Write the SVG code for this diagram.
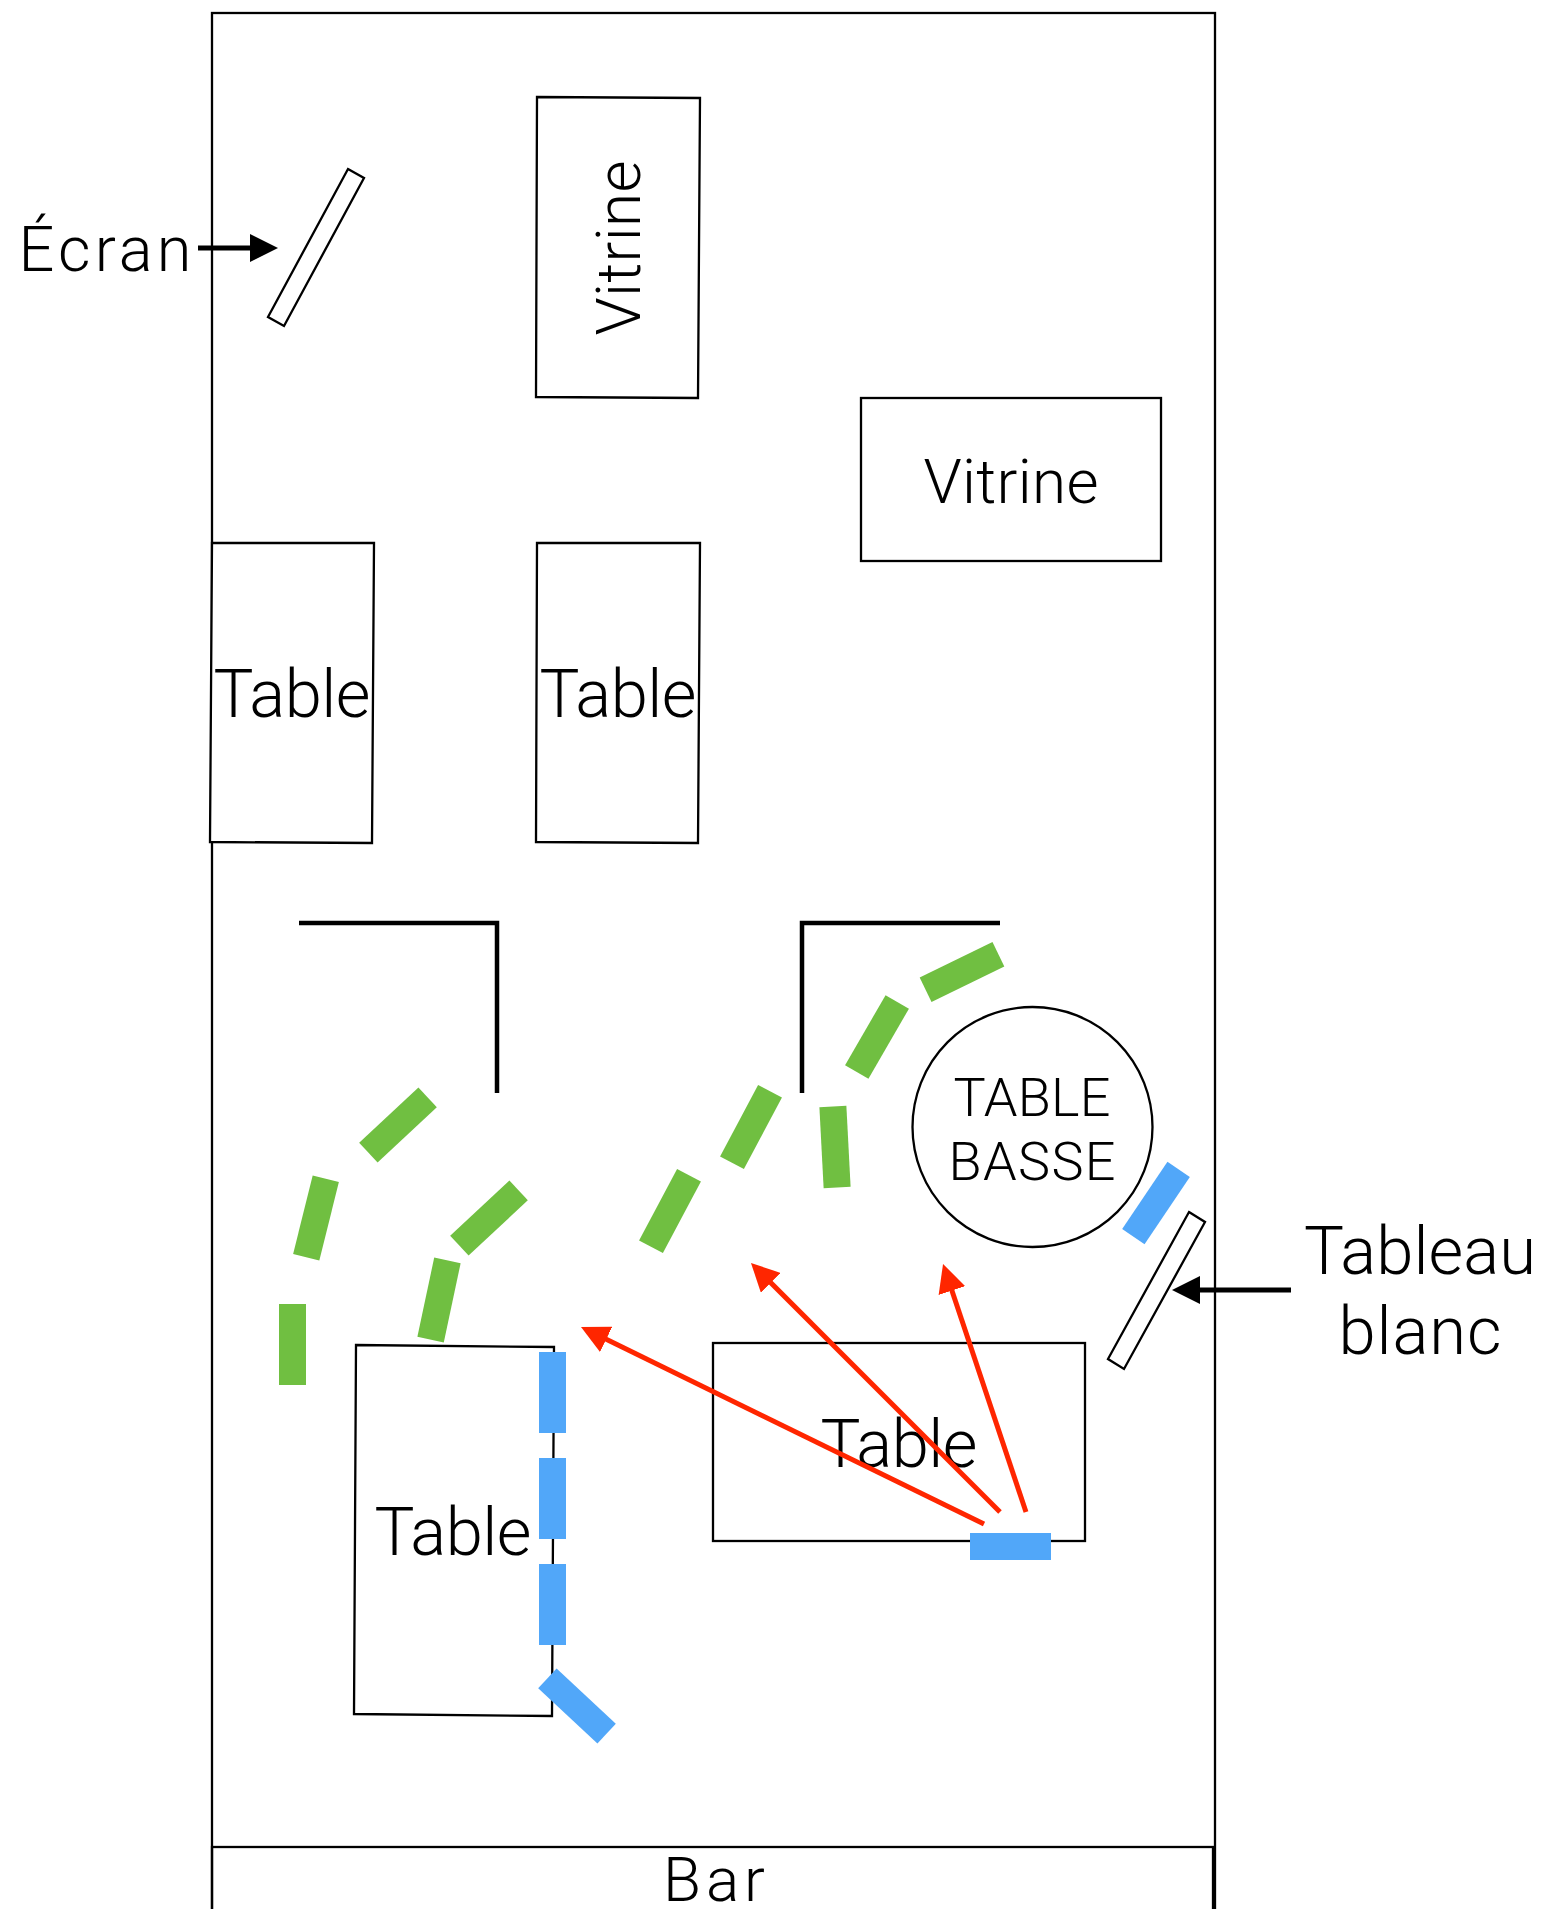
<svg xmlns="http://www.w3.org/2000/svg" width="1547" height="1909" viewBox="0 0 1547 1909">
<defs>
<marker id="ar" viewBox="0 0 10 10" refX="4.640" refY="5" markerWidth="28" markerHeight="28" markerUnits="userSpaceOnUse" orient="auto"><path d="M0 0L10 5L0 10z" fill="#ff2600"/></marker>
<marker id="ak" viewBox="0 0 10 10" refX="4.640" refY="5" markerWidth="28" markerHeight="28" markerUnits="userSpaceOnUse" orient="auto"><path d="M0 0L10 5L0 10z" fill="#000"/></marker>
</defs>
<style>
text{font-family:Roboto,"Liberation Sans",Arial,sans-serif;font-weight:300;fill:#000;text-anchor:middle}
.s{fill:#fff;stroke:#000;stroke-width:2.300}
.n{fill:none;stroke:#000;stroke-width:2.300}
.w{fill:none;stroke:#000;stroke-width:4.500}
.g{fill:#70bf41}
.b{fill:#51a7f9}
.r{stroke:#ff2600;stroke-width:5;fill:none;marker-end:url(#ar)}
.k{stroke:#000;stroke-width:5;fill:none;marker-end:url(#ak)}
</style>
<rect width="1547" height="1909" fill="#fff"/>
<g id="room"><rect class="n" x="212" y="13" width="1003" height="1950"/></g>
<g id="bar"><rect class="n" x="212" y="1847" width="1001" height="100"/><text x="714" y="1901" font-size="62" textLength="102">Bar</text></g>
<g id="ecran"><polygon class="s" points="348,169 364,178 284,326 268,317"/><text x="105" y="271" font-size="63" textLength="173">Écran</text></g>
<g id="vitrine1"><polygon class="s" points="537,97 700,98 698,398 536,397"/><text transform="translate(640,248) rotate(-90)" font-size="62" textLength="175">Vitrine</text></g>
<g id="vitrine2"><rect class="s" x="861" y="398" width="300" height="163"/><text x="1011" y="503" font-size="62" textLength="175">Vitrine</text></g>
<g id="table1"><polygon class="s" points="212,543 374,543 372,843 210,842"/><text x="292" y="717" font-size="67" textLength="157">Table</text></g>
<g id="table2"><polygon class="s" points="537,543 700,543 698,843 536,842"/><text x="618" y="717" font-size="67" textLength="157">Table</text></g>
<g id="table3"><polygon class="s" points="356,1345 554,1347 552,1716 354,1714"/><text x="453" y="1555" font-size="67" textLength="157">Table</text></g>
<g id="table4"><rect class="s" x="713" y="1343" width="372" height="198"/><text x="899" y="1467" font-size="67" textLength="157">Table</text></g>
<g id="tablebasse"><circle class="s" cx="1032.500" cy="1127" r="120"/><text x="1032" y="1116" font-size="54" textLength="157">TABLE</text><text x="1032" y="1180" font-size="54" textLength="167">BASSE</text></g>
<g id="tableau"><polygon class="s" points="1189,1212 1205,1222 1124,1369 1108,1359"/><text x="1420" y="1274" font-size="67" textLength="232">Tableau</text><text x="1420" y="1354" font-size="67" textLength="163">blanc</text></g>
<g id="walls"><path class="w" d="M299 923H497V1093"/><path class="w" d="M802 1093V923H1000"/></g>
<g id="green">
<rect class="g" x="279" y="1304" width="27" height="81"/>
<rect class="g" x="-13.500" y="-40.500" width="27" height="81" transform="translate(316,1218) rotate(14)"/>
<rect class="g" x="-13.500" y="-40.500" width="27" height="81" transform="translate(398,1125) rotate(47)"/>
<rect class="g" x="-13.500" y="-40.500" width="27" height="81" transform="translate(489,1218) rotate(47)"/>
<rect class="g" x="-13.500" y="-40.500" width="27" height="81" transform="translate(439,1300) rotate(12)"/>
<rect class="g" x="-13.500" y="-40.500" width="27" height="81" transform="translate(670,1211) rotate(28)"/>
<rect class="g" x="-13.500" y="-40.500" width="27" height="81" transform="translate(751,1127) rotate(28)"/>
<rect class="g" x="-13.500" y="-40.500" width="27" height="81" transform="translate(835,1147) rotate(-3)"/>
<rect class="g" x="-13.500" y="-40.500" width="27" height="81" transform="translate(877,1037) rotate(30)"/>
<rect class="g" x="-13.500" y="-40.500" width="27" height="81" transform="translate(962,972) rotate(64)"/>
</g>
<g id="blue">
<rect class="b" x="539" y="1352" width="27" height="81"/>
<rect class="b" x="539" y="1458" width="27" height="81"/>
<rect class="b" x="539" y="1564" width="27" height="81"/>
<rect class="b" x="-13.500" y="-40.500" width="27" height="81" transform="translate(577,1706) rotate(-47)"/>
<rect class="b" x="970" y="1533" width="81" height="27"/>
<rect class="b" x="-13.500" y="-40.500" width="27" height="81" transform="translate(1156,1203) rotate(34)"/>
</g>
<g id="connectors">
<path class="k" d="M198 248H263"/>
<path class="k" d="M1291 1290H1187"/>
<path class="r" d="M984 1524L594.500 1333.600"/>
<path class="r" d="M1000 1512L761.600 1273.600"/>
<path class="r" d="M1026 1512L947.800 1278.200"/>
</g>
</svg>
